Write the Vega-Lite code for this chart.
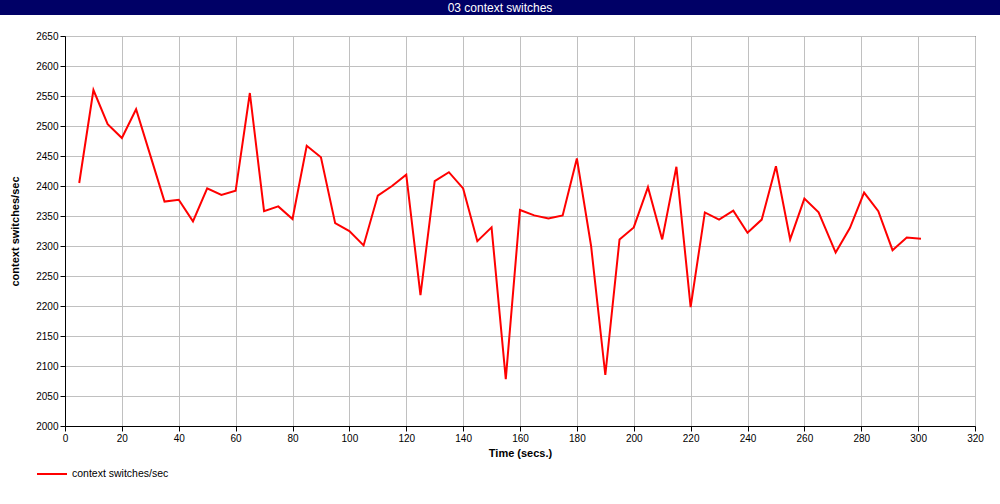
{
  "$schema": "https://vega.github.io/schema/vega-lite/v6.json",
  "padding": 0,
  "background": "white",
  "spacing": 15,
  "config": {
    "font": "Liberation Sans",
    "concat": {"spacing": 0}
  },
  "vconcat": [
    {
      "width": 1000,
      "height": 15,
      "data": {"values": [{"t": "03 context switches"}]},
      "mark": {"type": "text", "color": "white", "font": "Liberation Sans", "fontSize": 12, "baseline": "middle", "align": "center"},
      "encoding": {"text": {"field": "t"}},
      "view": {"fill": "#000066", "stroke": null}
    },
    {
      "spacing": 0,
      "hconcat": [
        {
          "width": 9,
          "height": 10,
          "data": {"values": [{"a": 1}]},
          "mark": {"type": "text"},
          "encoding": {"text": {"value": ""}},
          "view": {"stroke": null}
        },
        {
          "width": 910,
          "height": 390,
          "data": {"values": [
            {"t": 5, "v": 2405, "s": "context switches/sec"},
            {"t": 10, "v": 2560, "s": "context switches/sec"},
            {"t": 15, "v": 2503, "s": "context switches/sec"},
            {"t": 20, "v": 2480, "s": "context switches/sec"},
            {"t": 25, "v": 2528, "s": "context switches/sec"},
            {"t": 30, "v": 2451, "s": "context switches/sec"},
            {"t": 35, "v": 2374, "s": "context switches/sec"},
            {"t": 40, "v": 2377, "s": "context switches/sec"},
            {"t": 45, "v": 2341, "s": "context switches/sec"},
            {"t": 50, "v": 2396, "s": "context switches/sec"},
            {"t": 55, "v": 2385, "s": "context switches/sec"},
            {"t": 60, "v": 2392, "s": "context switches/sec"},
            {"t": 65, "v": 2555, "s": "context switches/sec"},
            {"t": 70, "v": 2358, "s": "context switches/sec"},
            {"t": 75, "v": 2366, "s": "context switches/sec"},
            {"t": 80, "v": 2345, "s": "context switches/sec"},
            {"t": 85, "v": 2467, "s": "context switches/sec"},
            {"t": 90, "v": 2448, "s": "context switches/sec"},
            {"t": 95, "v": 2338, "s": "context switches/sec"},
            {"t": 100, "v": 2325, "s": "context switches/sec"},
            {"t": 105, "v": 2301, "s": "context switches/sec"},
            {"t": 110, "v": 2384, "s": "context switches/sec"},
            {"t": 115, "v": 2400, "s": "context switches/sec"},
            {"t": 120, "v": 2419, "s": "context switches/sec"},
            {"t": 125, "v": 2218, "s": "context switches/sec"},
            {"t": 130, "v": 2408, "s": "context switches/sec"},
            {"t": 135, "v": 2423, "s": "context switches/sec"},
            {"t": 140, "v": 2396, "s": "context switches/sec"},
            {"t": 145, "v": 2308, "s": "context switches/sec"},
            {"t": 150, "v": 2331, "s": "context switches/sec"},
            {"t": 155, "v": 2078, "s": "context switches/sec"},
            {"t": 160, "v": 2360, "s": "context switches/sec"},
            {"t": 165, "v": 2351, "s": "context switches/sec"},
            {"t": 170, "v": 2346, "s": "context switches/sec"},
            {"t": 175, "v": 2351, "s": "context switches/sec"},
            {"t": 180, "v": 2446, "s": "context switches/sec"},
            {"t": 185, "v": 2300, "s": "context switches/sec"},
            {"t": 190, "v": 2085, "s": "context switches/sec"},
            {"t": 195, "v": 2311, "s": "context switches/sec"},
            {"t": 200, "v": 2331, "s": "context switches/sec"},
            {"t": 205, "v": 2398, "s": "context switches/sec"},
            {"t": 210, "v": 2311, "s": "context switches/sec"},
            {"t": 215, "v": 2432, "s": "context switches/sec"},
            {"t": 220, "v": 2198, "s": "context switches/sec"},
            {"t": 225, "v": 2356, "s": "context switches/sec"},
            {"t": 230, "v": 2344, "s": "context switches/sec"},
            {"t": 235, "v": 2359, "s": "context switches/sec"},
            {"t": 240, "v": 2322, "s": "context switches/sec"},
            {"t": 245, "v": 2344, "s": "context switches/sec"},
            {"t": 250, "v": 2433, "s": "context switches/sec"},
            {"t": 255, "v": 2311, "s": "context switches/sec"},
            {"t": 260, "v": 2379, "s": "context switches/sec"},
            {"t": 265, "v": 2356, "s": "context switches/sec"},
            {"t": 271, "v": 2289, "s": "context switches/sec"},
            {"t": 276, "v": 2330, "s": "context switches/sec"},
            {"t": 281, "v": 2389, "s": "context switches/sec"},
            {"t": 286, "v": 2358, "s": "context switches/sec"},
            {"t": 291, "v": 2293, "s": "context switches/sec"},
            {"t": 296, "v": 2314, "s": "context switches/sec"},
            {"t": 301, "v": 2312, "s": "context switches/sec"}
          ]},
          "mark": {"type": "line", "strokeWidth": 2, "clip": true},
          "encoding": {
            "x": {
              "field": "t", "type": "quantitative",
              "scale": {"domain": [0, 320], "nice": false, "zero": false},
              "axis": {
                "title": "Time (secs.)",
                "format": "d",
                "values": [0, 20, 40, 60, 80, 100, 120, 140, 160, 180, 200, 220, 240, 260, 280, 300, 320],
                "grid": true, "gridColor": "#c0c0c0", "gridWidth": 1, "gridOpacity": 1,
                "domainColor": "black", "domainWidth": 1,
                "tickColor": "black", "tickSize": 5, "tickWidth": 1,
                "labelColor": "black", "labelFont": "Liberation Sans", "labelFontSize": 10, "labelPadding": 2,
                "labelFlush": false, "labelOverlap": false,
                "titleColor": "black", "titleFont": "Liberation Sans", "titleFontSize": 11, "titleFontWeight": "bold", "titlePadding": 4
              }
            },
            "y": {
              "field": "v", "type": "quantitative",
              "scale": {"domain": [2000, 2650], "nice": false, "zero": false},
              "axis": {
                "title": "context switches/sec",
                "format": "d",
                "values": [2000, 2050, 2100, 2150, 2200, 2250, 2300, 2350, 2400, 2450, 2500, 2550, 2600, 2650],
                "grid": true, "gridColor": "#c0c0c0", "gridWidth": 1, "gridOpacity": 1,
                "domainColor": "black", "domainWidth": 1,
                "tickColor": "black", "tickSize": 5, "tickWidth": 1,
                "labelColor": "black", "labelFont": "Liberation Sans", "labelFontSize": 10, "labelPadding": 2,
                "labelFlush": false, "labelOverlap": false,
                "titleColor": "black", "titleFont": "Liberation Sans", "titleFontSize": 11, "titleFontWeight": "bold", "titlePadding": 15
              }
            },
            "color": {
              "field": "s", "type": "nominal",
              "scale": {"range": ["#ff0000"]},
              "legend": {
                "title": null, "orient": "none", "legendX": 36, "legendY": 458,
                "symbolType": "stroke", "symbolSize": 900, "symbolStrokeWidth": 2,
                "labelFont": "Liberation Sans", "labelFontSize": 10.5, "labelColor": "black",
                "labelOffset": 4, "padding": 0
              }
            }
          },
          "view": {"stroke": "black", "strokeWidth": 1, "fill": "white"}
        }
      ]
    }
  ]
}
